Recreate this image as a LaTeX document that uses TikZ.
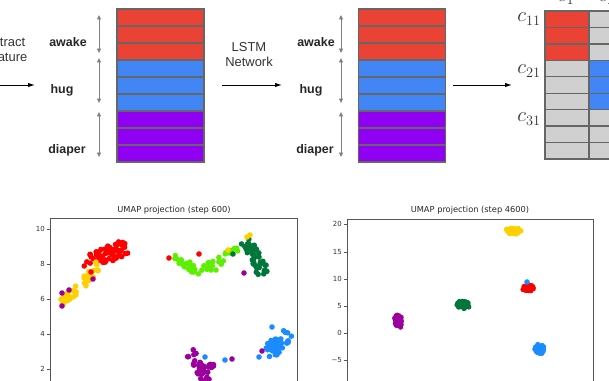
\documentclass[tikz,border=0pt]{standalone}
\usepackage{fontspec}
\setmainfont{Liberation Sans}
\newfontfamily\plotfont{DejaVu Sans}
\usetikzlibrary{arrows.meta}
\definecolor{cred}{HTML}{EA4335}
\definecolor{cblue}{HTML}{4285F4}
\definecolor{cpur}{HTML}{9000F2}
\definecolor{cgray}{HTML}{D0D0D0}
\definecolor{cline}{HTML}{666666}
\definecolor{sred}{HTML}{FF0000}
\definecolor{syel}{HTML}{FFD000}
\definecolor{slg}{HTML}{5CF000}
\definecolor{sdg}{HTML}{00763A}
\definecolor{spur}{HTML}{9C009C}
\definecolor{sblu}{HTML}{1A8CFF}
\definecolor{axc}{HTML}{555555}
\newcommand{\dotline}[9]{%
  \foreach \k in {1,...,#8}{%
    \pgfmathsetmacro\dlT{rnd}%
    \pgfmathsetmacro\dlA{360*rnd}%
    \pgfmathsetmacro\dlR{sqrt(rnd)}%
    \pgfmathsetmacro\dlX{#2+(#4-#2)*\dlT+#6*\dlR*cos(\dlA)}%
    \pgfmathsetmacro\dlY{#3+(#5-#3)*\dlT+#7*\dlR*sin(\dlA)}%
    \fill[#1] (\dlX,\dlY) circle[radius=#9];
  }}
\newcommand{\onedot}[3]{\fill[#1] (#2,#3) circle[radius=2.8pt];}
\begin{document}
\begin{tikzpicture}[x=1bp,y=-1bp,
  lbl/.style={font=\fontsize{12.5}{14}\selectfont\bfseries, text=black!85, inner sep=0},
  captxt/.style={font=\fontsize{13}{15}\selectfont, align=center, text=black!80, inner sep=0},
  cell/.style={minimum width=87bp, minimum height=17bp, inner sep=0, outer sep=0},
  mcell/.style={cell, minimum width=44bp, minimum height=16.44bp},
  border/.style={draw=cline, line width=1.3pt},
  span/.style={draw=gray, line width=0.8pt, {Triangle[length=4.5pt,width=4pt]}-{Triangle[length=4.5pt,width=4pt]}},
  flow/.style={-{Latex[length=7pt,width=4.5pt]}, line width=1pt},
  axis/.style={draw=axc, line width=0.9pt},
  tick/.style={font=\plotfont\fontsize{7}{8}\selectfont, text=black!80, inner sep=0, anchor=east},
  ttl/.style={font=\plotfont\fontsize{8.3}{9}\selectfont, text=black!85, inner sep=0},
  mlab/.style={font=\fontsize{20}{22}\selectfont, text=black!80, inner sep=0}
]
\useasboundingbox (0,0) rectangle (609,380);
\pgfmathsetseed{11}

% ---------- top: feature stacks ----------
\node[captxt] (extract) at (5,50) {Extract\\Feature};
\coordinate (f1s) at (0,85); \coordinate (f1e) at (35,85);
\draw[flow] (f1s) -- (f1e);

\node[lbl] (aw1) at (68,42) {awake};
\node[lbl] (hu1) at (62,90) {hug};
\node[lbl] (di1) at (67,150) {diaper};
\coordinate (a1t) at (99,15);  \coordinate (a1b) at (99,53);
\coordinate (h1t) at (99,58);  \coordinate (h1b) at (99,103);
\coordinate (d1t) at (99,112); \coordinate (d1b) at (99,157);
\draw[span] (a1t) -- (a1b);
\draw[span] (h1t) -- (h1b);
\draw[span] (d1t) -- (d1b);

\node[captxt] (lstm) at (249,55) {LSTM\\Network};
\coordinate (f2s) at (222,85); \coordinate (f2e) at (282,85);
\draw[flow] (f2s) -- (f2e);

\node[lbl] (aw2) at (316,42) {awake};
\node[lbl] (hu2) at (311,90) {hug};
\node[lbl] (di2) at (315,150) {diaper};
\coordinate (a2t) at (341,15);  \coordinate (a2b) at (341,53);
\coordinate (h2t) at (341,58);  \coordinate (h2b) at (341,103);
\coordinate (d2t) at (341,112); \coordinate (d2b) at (341,157);
\draw[span] (a2t) -- (a2b);
\draw[span] (h2t) -- (h2b);
\draw[span] (d2t) -- (d2b);

\foreach \i/\c in {1/cred,2/cred,3/cred,4/cblue,5/cblue,6/cblue,7/cpur,8/cpur,9/cpur}{
  \node[cell, fill=\c] (sa\i) at (160.5,{9+17*(\i-0.5)}) {};
  \node[cell, fill=\c] (sb\i) at (402,{9+17*(\i-0.5)}) {};
}
\foreach \i in {1,...,9}{
  \draw[border] (sa\i.north west) rectangle (sa\i.south east);
  \draw[border] (sb\i.north west) rectangle (sb\i.south east);
}

\coordinate (f3s) at (453,85); \coordinate (f3e) at (512,85);
\draw[flow] (f3s) -- (f3e);

\foreach \i/\a/\b in {1/cred/cgray,2/cred/cgray,3/cred/cgray,4/cgray/cblue,5/cgray/cblue,6/cgray/cblue,7/cgray/cgray,8/cgray/cgray,9/cgray/cgray}{
  \node[mcell, fill=\a] (ma\i) at (567,{11+16.44*(\i-0.5)}) {};
  \node[mcell, fill=\b] (mb\i) at (611,{11+16.44*(\i-0.5)}) {};
}
\foreach \i in {1,...,9}{
  \draw[border] (ma\i.north west) rectangle (ma\i.south east);
  \draw[border] (mb\i.north west) rectangle (mb\i.south east);
}
\node[mlab] (c11) at (529,19) {$c_{11}$};
\node[mlab] (c21) at (529,71) {$c_{21}$};
\node[mlab] (c31) at (529,119) {$c_{31}$};
\node[mlab, anchor=base] (c1) at (566,1) {$c_{1}$};
\node[mlab, anchor=base] (c2) at (607,1) {$c_{2}$};

% ---------- bottom left plot ----------
\node[ttl] (t1) at (174,210) {UMAP projection (step 600)};
\draw[axis] (50,218) rectangle (297,400);
\foreach \v/\y in {10/229,8/264,6/299,4/334,2/369}{
  \draw[axis] (46.5,\y) -- (50,\y);
  \node[tick] (pa\v) at (45,\y) {\v};
}
% yellow
\dotline{syel}{64}{301}{101}{265}{5}{5}{34}{2.8pt}
\dotline{syel}{65}{300}{65}{300}{5}{6}{12}{2.8pt}
% red
\dotline{sred}{90}{262}{128}{246}{9}{8}{55}{2.8pt}
\onedot{sred}{169}{258}
\onedot{sred}{199}{254}
\onedot{sred}{91}{272}
\onedot{syel}{96}{262}
% purple near yellow
\onedot{spur}{62}{293}
\onedot{spur}{69}{290}
\onedot{spur}{62}{306}
\onedot{spur}{93}{279}
% light green
\dotline{slg}{176}{258}{198}{271}{4}{5}{18}{2.8pt}
\dotline{slg}{198}{271}{222}{262}{4}{6}{18}{2.8pt}
\dotline{slg}{222}{257}{239}{248}{3}{3}{8}{2.8pt}
\onedot{syel}{228}{250}
% dark green
\dotline{sdg}{248}{244}{265}{276}{7}{6}{42}{2.8pt}
\onedot{sdg}{233}{254}
\onedot{syel}{247}{237}
\onedot{syel}{250}{235}
\onedot{spur}{244}{273}
% bottom purple
\dotline{spur}{192}{350}{205}{380}{7}{6}{32}{2.8pt}
\dotline{spur}{212}{366}{212}{366}{4}{5}{8}{2.8pt}
\onedot{sblu}{205}{357}
\onedot{sblu}{225}{360}
\onedot{spur}{232}{359}
% blue cluster
\dotline{sblu}{270}{350}{284}{338}{9}{8}{46}{2.8pt}
\onedot{sblu}{259}{357}
\onedot{sblu}{272}{327}
\onedot{spur}{262}{351}

% ---------- bottom right plot ----------
\node[ttl] (t2) at (470,210) {UMAP projection (step 4600)};
\draw[axis] (347,219) rectangle (593,400);
\foreach \n/\v/\y in {1/20/224,2/15/252,3/10/279,4/5/306,5/0/333,6/−5/360}{
  \draw[axis] (343.5,\y) -- (347,\y);
  \node[tick] (pb\n) at (342,\y) {\v};
}
\dotline{spur}{398}{318}{398}{324}{4}{4.5}{50}{2.6pt}
\dotline{sdg}{461}{304}{466}{305}{5}{4}{50}{2.6pt}
\dotline{syel}{510}{231}{517}{231}{5}{3}{50}{2.6pt}
\dotline{sred}{526}{288}{531}{288}{4.5}{3}{50}{2.6pt}
\fill[sblu] (527,282) circle[radius=2.8pt];
\dotline{sblu}{539}{348}{541}{350}{4.5}{4.5}{50}{2.6pt}
\end{tikzpicture}
\end{document}
